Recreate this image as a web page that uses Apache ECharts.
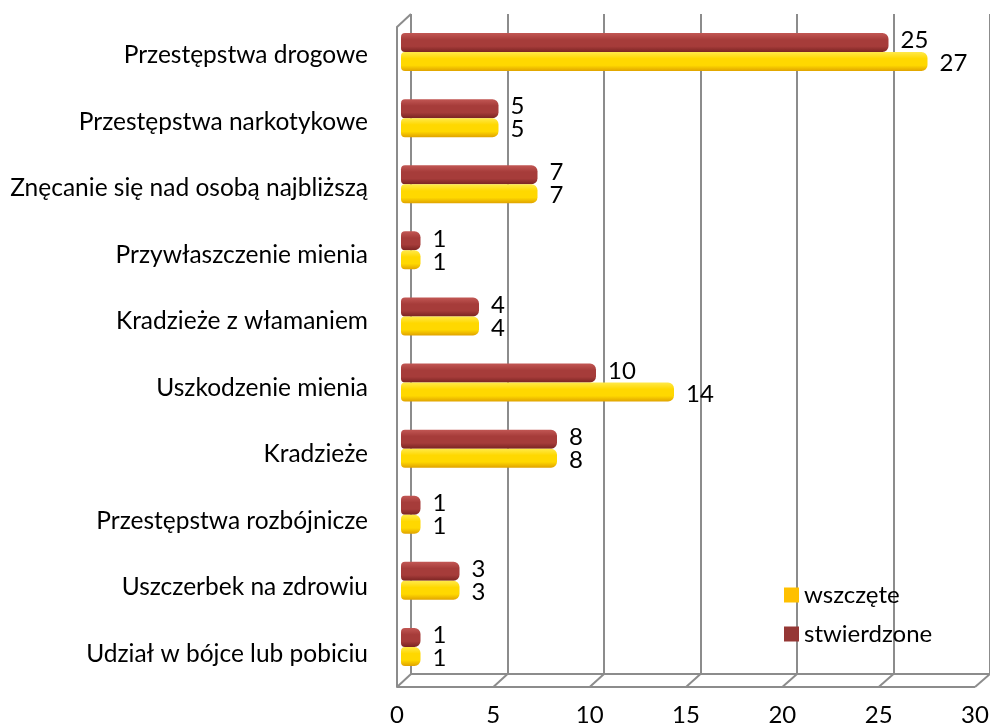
<!DOCTYPE html>
<html>
<head>
<meta charset="utf-8">
<script src="https://cdn.jsdelivr.net/npm/echarts@6/dist/echarts.min.js"></script>
<style>
  html, body { margin: 0; padding: 0; background: #fff; }
  #chart { width: 990px; height: 727px; }
</style>
</head>
<body>
<div id="chart"></div>
<script>
// kategorie przestępstw (od góry)
const categories = [
  'Przestępstwa drogowe',
  'Przestępstwa narkotykowe',
  'Znęcanie się nad osobą najbliższą',
  'Przywłaszczenie mienia',
  'Kradzieże z włamaniem',
  'Uszkodzenie mienia',
  'Kradzieże',
  'Przestępstwa rozbójnicze',
  'Uszczerbek na zdrowiu',
  'Udział w bójce lub pobiciu'
]
const stwierdzone = [25, 5, 7, 1, 4, 10, 8, 1, 3, 1]
const wszczete = [27, 5, 7, 1, 4, 14, 8, 1, 3, 1]
const xTicks = [0, 5, 10, 15, 20, 25, 30]

const font = 'Lato, "Open Sans", sans-serif'
const W = 990, H = 727
// siatki: 0 = słupki, 1 = przednia krawędź (etykiety osi), 2 = tylna ściana, 3 = etykiety kategorii
const front = { left: 397, right: 15, top: 27, bottom: 40 }
const back = { left: 411, right: 0, top: 14, bottom: 53 }
const lineColor = '#8c8c8c'

// gradient imitujący walec
function cylinder(top, mid, bottom) {
  return new echarts.graphic.LinearGradient(0, 0, 0, 1, [
    { offset: 0, color: top },
    { offset: 0.35, color: mid },
    { offset: 0.7, color: mid },
    { offset: 1, color: bottom }
  ])
}

const valueAxis = (gridIndex, extra) => Object.assign({
  type: 'value',
  gridIndex: gridIndex,
  min: xTicks[0],
  max: xTicks[xTicks.length - 1],
  interval: 5,
  axisLine: { show: false },
  axisTick: { show: false },
  axisLabel: { show: false },
  splitLine: { show: false }
}, extra)

const catAxis = (gridIndex, extra) => Object.assign({
  type: 'category',
  gridIndex: gridIndex,
  data: categories,
  inverse: true,
  axisLine: { show: false },
  axisTick: { show: false },
  axisLabel: { show: false }
}, extra)

const noBounds = { outerBoundsMode: 'none', containLabel: false }

const myChart = echarts.init(document.getElementById('chart'))
const option = {
  animation: false,
  textStyle: { fontFamily: font },
  legend: {
    data: [
      { name: 'wszczęte', itemStyle: { color: '#ffc000' } },
      { name: 'stwierdzone', itemStyle: { color: '#953735' } }
    ],
    orient: 'vertical',
    left: 779,
    top: 578,
    itemWidth: 15,
    itemHeight: 15,
    itemGap: 15,
    icon: 'rect',
    textStyle: { fontSize: 24, color: '#000', fontFamily: font }
  },
  grid: [
    Object.assign({ left: 401, right: 4, top: 19, bottom: 47, z: 5 }, noBounds),
    Object.assign({}, noBounds, front),
    Object.assign({}, noBounds, back),
    Object.assign({ left: 397, right: 15, top: 22, bottom: 40 }, noBounds)
  ],
  xAxis: [
    valueAxis(0),
    valueAxis(1, {
      axisLabel: { show: true, fontSize: 24, color: '#000', margin: 16, fontFamily: font }
    }),
    valueAxis(2, {
      axisLine: { show: true, lineStyle: { color: lineColor, width: 2 } },
      splitLine: { show: true, lineStyle: { color: lineColor, width: 2 } }
    }),
    valueAxis(3)
  ],
  yAxis: [
    catAxis(0),
    catAxis(1, { axisLine: { show: true, lineStyle: { color: lineColor, width: 2 } } }),
    catAxis(2),
    catAxis(3, {
      axisLabel: { show: true, fontSize: 24.5, color: '#000', margin: 29, fontFamily: font }
    })
  ],
  series: [
    {
      name: 'stwierdzone',
      type: 'bar',
      xAxisIndex: 0,
      yAxisIndex: 0,
      data: stwierdzone,
      barWidth: 19,
      barGap: '0%',
      z: 5,
      itemStyle: {
        color: cylinder('#c25754', '#a63c3a', '#7a2422'),
        borderRadius: [4, 6, 6, 4]
      },
      label: {
        show: true,
        position: 'right',
        distance: 12,
        offset: [0, -2],
        fontSize: 24,
        color: '#000',
        fontFamily: font
      }
    },
    {
      name: 'wszczęte',
      type: 'bar',
      xAxisIndex: 0,
      yAxisIndex: 0,
      data: wszczete,
      barWidth: 19,
      barGap: '0%',
      z: 5,
      itemStyle: {
        color: cylinder('#ffe94a', '#ffd800', '#e0a300'),
        borderRadius: [4, 6, 6, 4]
      },
      label: {
        show: true,
        position: 'right',
        distance: 12,
        offset: [0, 2],
        fontSize: 24,
        color: '#000',
        fontFamily: font
      }
    }
  ]
}
myChart.setOption(option)

// podłoga i skośne krawędzie (efekt 3D), liczone z osi
const frontY = H - front.bottom
const backY = H - back.bottom
const lineStyle = { stroke: lineColor, lineWidth: 2 }
const deco = []
xTicks.forEach(function (t) {
  const fx = myChart.convertToPixel({ xAxisIndex: 1 }, t)
  const bx = myChart.convertToPixel({ xAxisIndex: 2 }, t)
  deco.push({ type: 'line', z: 1, shape: { x1: fx, y1: frontY, x2: bx, y2: backY }, style: lineStyle })
})
const fx0 = myChart.convertToPixel({ xAxisIndex: 1 }, xTicks[0])
const fxN = myChart.convertToPixel({ xAxisIndex: 1 }, xTicks[xTicks.length - 1])
const bx0 = myChart.convertToPixel({ xAxisIndex: 2 }, xTicks[0])
deco.push({ type: 'line', z: 1, shape: { x1: fx0, y1: frontY, x2: fxN, y2: frontY }, style: lineStyle })
deco.push({ type: 'line', z: 1, shape: { x1: fx0, y1: front.top, x2: bx0, y2: back.top }, style: lineStyle })
myChart.setOption({ graphic: deco })
</script>
</body>
</html>
